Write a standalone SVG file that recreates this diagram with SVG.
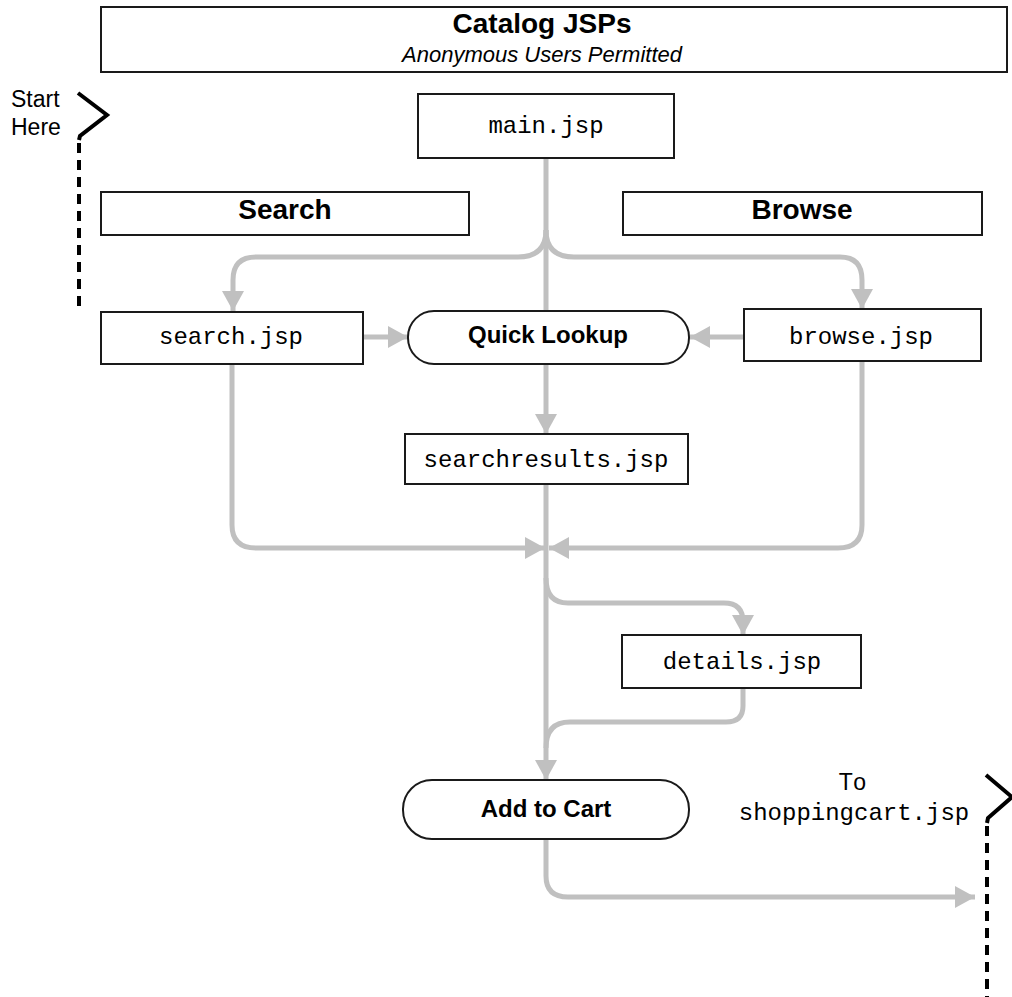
<svg xmlns="http://www.w3.org/2000/svg" width="1012" height="997" viewBox="0 0 1012 997">
<style>
.box{fill:#fff;stroke:#1a1a1a;stroke-width:2}
.hdr{font-family:"Liberation Sans",Arial,sans-serif;font-weight:bold;font-size:28px;fill:#000;text-anchor:middle}
.mono{font-family:"Liberation Mono","Courier New",monospace;font-size:24px;fill:#000;text-anchor:middle}
.act{font-family:"Liberation Sans",Arial,sans-serif;font-weight:bold;font-size:24px;fill:#000;text-anchor:middle}
.lbl{font-family:"Liberation Sans",Arial,sans-serif;font-size:23px;fill:#000}
.conn{fill:none;stroke:#c0c0c0;stroke-width:5}
.jump{fill:none;stroke:#000;stroke-width:4}
.dash{fill:none;stroke:#000;stroke-width:4;stroke-dasharray:10 7}
</style>
<defs>
<marker id="arr" markerUnits="userSpaceOnUse" markerWidth="22" markerHeight="22" refX="20" refY="11" orient="auto">
<path d="M0,0 L20,11 L0,22 z" fill="#c0c0c0"/>
</marker>
</defs>

<g id="title">
<rect class="box" x="101" y="7" width="906" height="65"/>
<text class="hdr" x="542" y="33">Catalog JSPs</text>
<text x="542" y="62" font-family="Liberation Sans, Arial, sans-serif" font-style="italic" font-size="22" text-anchor="middle">Anonymous Users Permitted</text>
</g>

<g id="start">
<text class="lbl" x="11" y="107">Start</text>
<text class="lbl" x="11" y="135">Here</text>
<polyline class="jump" points="78,93 107,115 80,136 79,140"/>
<line class="dash" x1="79" y1="143" x2="79" y2="313"/>
</g>

<g id="end">
<text class="lbl" x="854" y="790" text-anchor="middle" letter-spacing="3">To</text>
<text class="mono" x="854" y="820">shoppingcart.jsp</text>
<polyline class="jump" points="986,775 1012,797 988,818 987,823"/>
<line class="dash" x1="987" y1="826" x2="987" y2="997"/>
</g>

<g id="connectors">
<path class="conn" d="M546,158 L546,311"/>
<path class="conn" d="M546,230 Q546,257 518,257 L256,257 Q233,257 233,280 L233,311" marker-end="url(#arr)"/>
<path class="conn" d="M546,230 Q546,257 574,257 L840,257 Q862,257 862,280 L862,309" marker-end="url(#arr)"/>
<path class="conn" d="M363,337 L408,337" marker-end="url(#arr)"/>
<path class="conn" d="M744,337 L690,337" marker-end="url(#arr)"/>
<path class="conn" d="M546,364 L546,434" marker-end="url(#arr)"/>
<path class="conn" d="M232,364 L232,525 Q232,548 256,548 L545,548" marker-end="url(#arr)"/>
<path class="conn" d="M862,361 L862,525 Q862,548 838,548 L549,548" marker-end="url(#arr)"/>
<path class="conn" d="M546,484 L546,780" marker-end="url(#arr)"/>
<path class="conn" d="M546,578 Q546,603 568,603 L724,603 Q743,603 743,622 L743,635" marker-end="url(#arr)"/>
<path class="conn" d="M743,688 L743,706 Q743,722 726,722 L570,722 Q546,722 546,748"/>
<path class="conn" d="M546,839 L546,876 Q546,897 568,897 L975,897" marker-end="url(#arr)"/>
</g>

<g id="main">
<rect class="box" x="418" y="94" width="256" height="64"/>
<text class="mono" x="546" y="133">main.jsp</text>
</g>

<g id="search-hdr">
<rect class="box" x="101" y="192" width="368" height="43"/>
<text class="hdr" x="285" y="219">Search</text>
</g>

<g id="browse-hdr">
<rect class="box" x="623" y="192" width="359" height="43"/>
<text class="hdr" x="802" y="219">Browse</text>
</g>

<g id="search">
<rect class="box" x="101" y="312" width="262" height="52"/>
<text class="mono" x="231" y="344">search.jsp</text>
</g>

<g id="quicklookup">
<rect class="box" x="408" y="311" width="281" height="53" rx="26" ry="26"/>
<text class="act" x="548" y="343">Quick Lookup</text>
</g>

<g id="browse">
<rect class="box" x="744" y="309" width="237" height="52"/>
<text class="mono" x="861" y="344">browse.jsp</text>
</g>

<g id="searchresults">
<rect class="box" x="405" y="434" width="283" height="50"/>
<text class="mono" x="546" y="467">searchresults.jsp</text>
</g>

<g id="details">
<rect class="box" x="622" y="635" width="239" height="53"/>
<text class="mono" x="742" y="669">details.jsp</text>
</g>

<g id="addtocart">
<rect class="box" x="403" y="780" width="286" height="59" rx="29" ry="29"/>
<text class="act" x="546" y="817">Add to Cart</text>
</g>
</svg>
